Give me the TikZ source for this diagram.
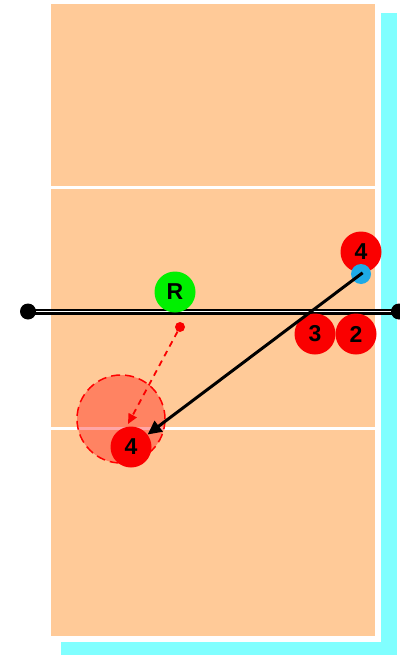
\documentclass[tikz,border=0pt]{standalone}
\usepackage{fontspec}
\setmainfont{Liberation Sans}
\usetikzlibrary{arrows.meta}
\definecolor{courtc}{RGB}{255,202,152}
\definecolor{shadowc}{RGB}{128,255,255}
\definecolor{redp}{RGB}{250,0,0}
\definecolor{greenp}{RGB}{0,240,0}
\definecolor{bluep}{RGB}{30,170,230}
\tikzset{
  player/.style={circle,inner sep=0pt,minimum size=41pt,font=\fontsize{23}{23}\selectfont\bfseries},
  redplayer/.style={player,fill=redp},
  greenplayer/.style={player,fill=greenp},
  courtline/.style={white,line width=3pt},
}
\begin{document}
\begin{tikzpicture}[x=1pt,y=-1pt]
\useasboundingbox (0,0) rectangle (399,655);
% shadow and court
\fill[shadowc] (61,13) rectangle (397,655);
\fill[white] (49,2) rectangle (381,642);
\fill[courtc] (51,4) rectangle (375,636);
\draw[courtline] (51,187) -- (375,187);
\draw[courtline] (51,428) -- (375,428);
% net
\coordinate (netL) at (28,311.5);
\coordinate (netR) at (399,311.5);
\draw[black,line width=6pt] (netL) -- (netR);
\draw[white,line width=1.6pt] (netL) -- (netR);
\fill[black] (netL) circle (8);
\fill[black] (netR) circle (8);
% attack zone circle
\node[circle,minimum size=88pt,inner sep=0pt,fill=red,fill opacity=0.35,draw=red,dash pattern=on 9pt off 5pt,line width=1.5pt] (zone) at (121,419) {};
% players
\node[greenplayer] (R) at (175,292) {R};
\node[redplayer] (p4a) at (361,252) {4};
\node[circle,fill=bluep,minimum size=20pt,inner sep=0pt] (ball) at (361,274) {};
\node[redplayer] (p3) at (315,334) {3};
\node[redplayer] (p2) at (356,334) {2};
\node[circle,fill=redp,minimum size=10pt,inner sep=0pt] (dot) at (180,327) {};
\node[redplayer] (p4b) at (131,447) {4};
% arrows
\draw[redp,dash pattern=on 6pt off 5pt,line width=1.8pt,-{Triangle[length=10pt,width=9pt]}] (dot) -- (128,424);
\draw[black,line width=3pt,shorten <=-2pt,-{Triangle[length=14pt,width=13pt]}] (ball.center) -- (p4b);
\end{tikzpicture}
\end{document}
